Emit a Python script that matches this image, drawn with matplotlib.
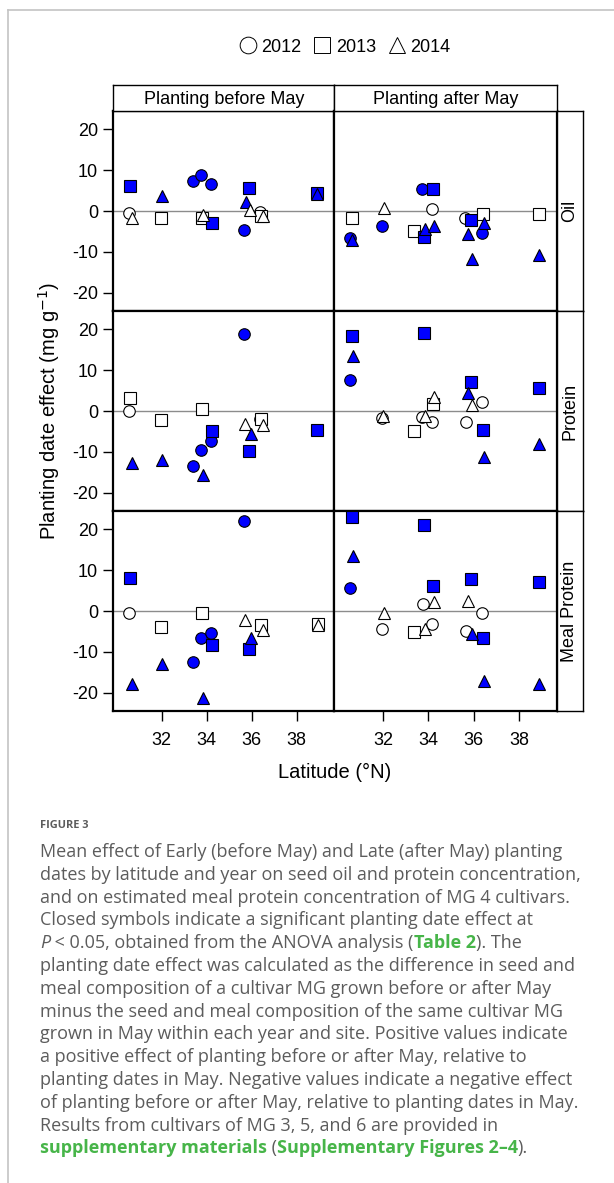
import matplotlib
matplotlib.use("Agg")
import matplotlib.pyplot as plt
from matplotlib.lines import Line2D

plt.rcParams["font.family"] = ["Liberation Sans", "DejaVu Sans"]

# (latitude, effect mg/g, year, significant)
oil_before = [
    (30.61, 6.0, 2013, 1), (30.57, -0.6, 2012, 0), (30.66, -1.7, 2014, 0),
    (32.03, 3.7, 2014, 1), (31.99, -1.8, 2013, 0), (33.41, 7.4, 2012, 1),
    (33.77, 8.9, 2012, 1), (34.18, 6.6, 2012, 1), (33.81, -1.7, 2013, 0),
    (33.85, -0.9, 2014, 0), (34.24, -2.9, 2013, 1), (35.89, 5.5, 2013, 1),
    (35.75, 2.3, 2014, 1), (35.68, -4.6, 2012, 1), (35.91, 0.3, 2014, 0),
    (36.38, -0.2, 2012, 0), (36.42, -1.3, 2013, 0), (36.50, -1.1, 2014, 0),
    (38.89, 4.5, 2013, 1), (38.93, 4.2, 2014, 1),
]
oil_after = [
    (30.61, -1.7, 2013, 0), (30.56, -6.5, 2012, 1), (30.64, -7.1, 2014, 1),
    (32.04, 0.7, 2014, 0), (31.97, -3.6, 2012, 1), (33.72, 5.3, 2012, 1),
    (34.20, 5.4, 2013, 1), (34.15, 0.5, 2012, 0), (33.39, -5.0, 2013, 0),
    (33.81, -6.4, 2013, 1), (33.87, -4.4, 2014, 1), (34.25, -3.6, 2014, 1),
    (35.60, -1.7, 2012, 0), (35.88, -2.2, 2013, 1), (36.40, -0.8, 2013, 0),
    (36.44, -3.0, 2014, 1), (35.75, -5.5, 2014, 1), (36.35, -5.3, 2012, 1),
    (35.92, -11.6, 2014, 1), (38.87, -0.7, 2013, 0), (38.90, -10.8, 2014, 1),
]
protein_before = [
    (35.68, 18.9, 2012, 1), (30.61, 3.1, 2013, 0), (30.57, -0.1, 2012, 0),
    (31.99, -2.1, 2013, 0), (33.81, 0.5, 2013, 0), (30.66, -12.7, 2014, 1),
    (32.03, -12.0, 2014, 1), (33.41, -13.3, 2012, 1), (33.77, -9.5, 2012, 1),
    (34.18, -7.3, 2012, 1), (34.24, -5.0, 2013, 1), (33.85, -15.7, 2014, 1),
    (35.72, -3.2, 2014, 0), (35.96, -5.5, 2014, 1), (35.89, -9.8, 2013, 1),
    (36.38, -2.0, 2012, 0), (36.42, -2.0, 2013, 0), (36.50, -3.3, 2014, 0),
    (38.89, -4.6, 2013, 1),
]
protein_after = [
    (30.61, 18.2, 2013, 1), (30.67, 13.5, 2014, 1), (30.56, 7.6, 2012, 1),
    (33.81, 19.0, 2013, 1), (31.99, -1.2, 2014, 0), (31.97, -1.7, 2012, 0),
    (33.39, -5.0, 2013, 0), (33.74, -1.4, 2012, 0), (33.84, -1.1, 2014, 0),
    (34.15, -2.8, 2012, 0), (34.20, 1.7, 2013, 0), (34.27, 3.5, 2014, 0),
    (35.88, 7.0, 2013, 1), (35.75, 4.3, 2014, 1), (35.92, 1.5, 2014, 0),
    (36.35, 2.3, 2012, 0), (35.65, -2.8, 2012, 0), (36.40, -4.6, 2013, 1),
    (36.44, -11.3, 2014, 1), (38.87, 5.5, 2013, 1), (38.90, -8.0, 2014, 1),
]
meal_before = [
    (35.68, 21.9, 2012, 1), (30.61, 8.1, 2013, 1), (30.57, -0.6, 2012, 0),
    (31.99, -3.9, 2013, 0), (33.81, -0.4, 2013, 0), (33.77, -6.6, 2012, 1),
    (34.18, -5.3, 2012, 1), (34.24, -8.4, 2013, 1), (33.41, -12.5, 2012, 1),
    (32.03, -13.0, 2014, 1), (30.66, -17.7, 2014, 1), (33.85, -21.2, 2014, 1),
    (35.72, -2.3, 2014, 0), (35.96, -6.5, 2014, 1), (35.89, -9.3, 2013, 1),
    (36.42, -3.5, 2013, 0), (36.50, -4.7, 2014, 0), (38.94, -3.2, 2013, 0),
    (38.94, -3.4, 2014, 0),
]
meal_after = [
    (30.61, 22.9, 2013, 1), (33.81, 21.1, 2013, 1), (30.67, 13.3, 2014, 1),
    (30.56, 5.7, 2012, 1), (32.04, -0.6, 2014, 0), (31.97, -4.4, 2012, 0),
    (33.76, 1.6, 2012, 0), (34.25, 2.3, 2014, 0), (34.21, 6.2, 2013, 1),
    (34.15, -3.2, 2012, 0), (33.87, -4.3, 2014, 0), (33.39, -5.1, 2013, 0),
    (35.88, 7.7, 2013, 1), (35.75, 2.4, 2014, 0), (36.35, -0.6, 2012, 0),
    (35.65, -4.8, 2012, 0), (35.92, -5.5, 2014, 1), (36.40, -6.6, 2013, 1),
    (36.44, -17.1, 2014, 1), (38.87, 7.0, 2013, 1), (38.90, -17.7, 2014, 1),
]

rows = ["Oil", "Protein", "Meal Protein"]
cols = ["Planting before May", "Planting after May"]
panels = [[oil_before, oil_after], [protein_before, protein_after], [meal_before, meal_after]]
years = [2012, 2013, 2014]
year_markers = {2012: "o", 2013: "s", 2014: "^"}
FILL = "#0000ff"

W, H = 614, 1183
fig = plt.figure(figsize=(W / 100, H / 100), dpi=100)


def fx(px):
    return px / W


def fy(px):
    return 1 - px / H


# card border
fig.add_artist(Line2D([fx(7.5), 1], [fy(10), fy(10)], color="#c4c4c4", lw=1.2))
fig.add_artist(Line2D([fx(7.5), fx(7.5)], [fy(10), 0], color="#c4c4c4", lw=1.2))

col_x = [(113.3, 334.3), (334.3, 557.0)]
row_y = [(111, 311), (311, 511), (511, 711)]

for r in range(3):
    for c in range(2):
        x0, x1 = col_x[c]
        y0, y1 = row_y[r]
        ax = fig.add_axes([fx(x0), fy(y1), fx(x1 - x0), (y1 - y0) / H])
        ax.axhline(0, color="#8c8c8c", lw=1.0, zorder=1)
        for yr in years:
            pts = [p for p in panels[r][c] if p[2] == yr]
            for lat, val, _, sig in pts:
                ax.plot(lat, val, marker=year_markers[yr], ms=8.3, ls="none",
                        mfc=FILL if sig else "white", mec="black", mew=0.8,
                        zorder=2 + years.index(yr))
        ax.set_xlim(29.85, 39.68)
        ax.set_ylim(-24.4, 24.4)
        for s in ax.spines.values():
            s.set_linewidth(1.6)
        ax.tick_params(direction="out", length=7, width=1.0, labelsize=13,
                       top=False, right=False, pad=8)
        ax.tick_params(axis="y", pad=4)
        if c == 0:
            ax.set_yticks([-20, -10, 0, 10, 20])
            ax.set_yticklabels(["-20", "-10", "0", "10", "20"])
        else:
            ax.set_yticks([])
        if r == 2:
            ax.set_xticks([32, 34, 36, 38])
        else:
            ax.set_xticks([])

        # top strips
        if r == 0:
            sax = fig.add_axes([fx(x0), fy(111), fx(x1 - x0), 26 / H])
            sax.set_xticks([])
            sax.set_yticks([])
            for s in sax.spines.values():
                s.set_linewidth(1.0)
            sax.text(0.5, 0.45, cols[c], ha="center", va="center", fontsize=13,
                     transform=sax.transAxes)
    # right strips
    y0, y1 = row_y[r]
    rax = fig.add_axes([fx(557.0), fy(y1), fx(25.5), (y1 - y0) / H])
    rax.set_xticks([])
    rax.set_yticks([])
    for s in rax.spines.values():
        s.set_linewidth(1.0)
    rax.text(0.5, 0.5, rows[r], ha="center", va="center", rotation=90,
             fontsize=13, transform=rax.transAxes)

fig.text(fx(49), fy(411), "Planting date effect (mg g$^{-1}$)", rotation=90,
         ha="center", va="center", fontsize=14.5)
fig.text(fx(335), fy(772), "Latitude (°N)", ha="center", va="center", fontsize=14.5)

handles = [Line2D([], [], marker=year_markers[y], ls="none", ms=12, mfc="white",
                  mec="black", mew=0.7) for y in years]
fig.legend(handles, [str(y) for y in years], loc="center", ncol=3, frameon=False,
           bbox_to_anchor=(fx(345), fy(47)), fontsize=13, handlelength=0.9,
           handletextpad=0.3, columnspacing=0.7)

# caption
GREY = "#5c5c5c"
GREEN = "#47b549"
CAP_FONT = ["Open Sans", "DejaVu Sans"]
fig.text(fx(40), fy(826), "FIGURE 3", fontsize=7.9, fontweight="bold", color=GREY,
         family=CAP_FONT, va="center")

caption = [
    [("Mean effect of Early (before May) and Late (after May) planting", "n")],
    [("dates by latitude and year on seed oil and protein concentration,", "n")],
    [("and on estimated meal protein concentration of MG 4 cultivars.", "n")],
    [("Closed symbols indicate a significant planting date effect at", "n")],
    [("P", "i"), (" < 0.05, obtained from the ANOVA analysis (", "n"),
     ("Table 2", "g"), ("). The", "n")],
    [("planting date effect was calculated as the difference in seed and", "n")],
    [("meal composition of a cultivar MG grown before or after May", "n")],
    [("minus the seed and meal composition of the same cultivar MG", "n")],
    [("grown in May within each year and site. Positive values indicate", "n")],
    [("a positive effect of planting before or after May, relative to", "n")],
    [("planting dates in May. Negative values indicate a negative effect", "n")],
    [("of planting before or after May, relative to planting dates in May.", "n")],
    [("Results from cultivars of MG 3, 5, and 6 are provided in", "n")],
    [("supplementary materials", "g"), (" (", "n"),
     ("Supplementary Figures 2\u20134", "g"), (").", "n")],
]

renderer = fig.canvas.get_renderer()
for i, line in enumerate(caption):
    x = 40
    y = 852 + i * 22.8
    for seg, style in line:
        kw = dict(fontsize=12.95, family=CAP_FONT, va="center", ha="left", color=GREY)
        if style == "i":
            kw["fontstyle"] = "italic"
        if style == "g":
            kw["color"] = GREEN
            kw["fontweight"] = "bold"
        t = fig.text(fx(x), fy(y), seg, **kw)
        bb = t.get_window_extent(renderer=renderer)
        x += bb.width

fig.savefig("out.png", dpi=100)
